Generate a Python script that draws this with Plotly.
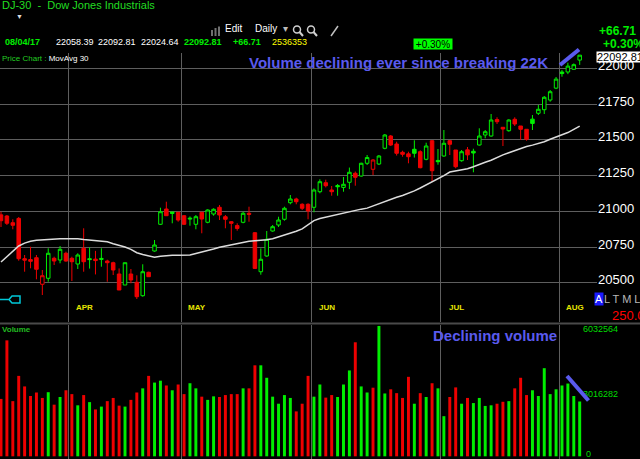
import pandas as pd
import plotly.graph_objects as go

W, H = 640, 459
FONT = "Liberation Sans, Arial, sans-serif"
GREEN = "#00ee00"
RED = "#ee0000"
BLUE = "#5a5aee"
GRID = "#5e5e5e"

# trading days shown (Mar 16 - Aug 4, 2017)
HOLIDAYS = ["2017-04-14", "2017-05-29", "2017-07-04"]
DATES = [d for d in pd.bdate_range("2017-03-16", "2017-08-04")
         if d.strftime("%Y-%m-%d") not in HOLIDAYS]

PREV_CLOSE = 20950.0

OPEN = [20975, 20967, 20920, 20950, 20668, 20662, 20675, 20489, 20531, 20671,
        20659, 20706, 20671, 20631, 20741, 20668, 20665, 20670, 20652, 20640,
        20561, 20484, 20561, 20503, 20409, 20573, 20722, 20909, 21016, 20995,
        20993, 20969, 20952, 20909, 20993, 20923, 20981, 21028, 20962, 20927,
        20900, 20923, 20986, 20850, 20577, 20687, 20862, 20904, 20944, 21060,
        21086, 21049, 21049, 21028, 21137, 21200, 21149, 21180, 21167, 21203,
        21266, 21247, 21336, 21294, 21331, 21441, 21527, 21471, 21413, 21402,
        21434, 21417, 21364, 21494, 21356, 21387, 21494, 21429, 21354, 21430,
        21420, 21464, 21534, 21527, 21642, 21588, 21564, 21644, 21597, 21574,
        21645, 21686, 21711, 21779, 21862, 21975, 21975, 21994, 22058.39]
HIGH = [20997, 20974, 20944, 20960, 20694, 20752, 20694, 20589, 20741, 20682,
        20757, 20717, 20682, 20706, 20881, 20746, 20723, 20741, 20661, 20647,
        20600, 20640, 20596, 20552, 20629, 20577, 20799, 21025, 21067, 20995,
        20993, 20974, 20964, 20974, 20993, 21014, 21021, 21044, 20974, 20932,
        20916, 20997, 21032, 20855, 20740, 20862, 20904, 20962, 21032, 21114,
        21095, 21056, 21056, 21160, 21224, 21221, 21177, 21191, 21240, 21306,
        21278, 21340, 21394, 21366, 21394, 21541, 21534, 21487, 21424, 21417,
        21497, 21427, 21480, 21499, 21436, 21569, 21499, 21429, 21429, 21450,
        21438, 21581, 21569, 21681, 21658, 21588, 21644, 21658, 21597, 21574,
        21674, 21744, 21807, 21849, 21940, 21989, 22040, 22035, 22092.81]
LOW = [20890, 20904, 20874, 20654, 20577, 20601, 20524, 20414, 20507, 20624,
       20636, 20647, 20512, 20596, 20577, 20599, 20558, 20612, 20507, 20554,
       20449, 20484, 20496, 20386, 20402, 20542, 20717, 20904, 20969, 20916,
       20927, 20904, 20899, 20874, 20846, 20916, 20969, 20939, 20881, 20799,
       20864, 20916, 20927, 20596, 20556, 20682, 20857, 20890, 20934, 21049,
       21049, 21009, 20944, 20993, 21126, 21167, 21109, 21109, 21137, 21155,
       21179, 21242, 21324, 21254, 21324, 21434, 21457, 21390, 21382, 21336,
       21376, 21301, 21357, 21210, 21326, 21382, 21394, 21301, 21347, 21359,
       21273, 21460, 21511, 21522, 21611, 21457, 21557, 21597, 21499, 21494,
       21569, 21674, 21681, 21767, 21855, 21942, 21960, 21990, 22024.64]
CLOSE = [20934, 20916, 20902, 20668, 20658, 20650, 20594, 20549, 20706, 20652,
         20734, 20652, 20647, 20694, 20647, 20662, 20655, 20664, 20640, 20589,
         20449, 20640, 20519, 20402, 20577, 20542, 20764, 20997, 20969, 20985,
         20939, 20909, 20947, 20962, 20946, 21009, 21014, 20974, 20944, 20916,
         20880, 20986, 20979, 20600, 20664, 20804, 20892, 20939, 21021, 21086,
         21067, 21021, 21002, 21149, 21207, 21179, 21137, 21172, 21189, 21273,
         21238, 21336, 21376, 21359, 21387, 21534, 21464, 21406, 21399, 21382,
         21406, 21305, 21457, 21284, 21347, 21476, 21469, 21312, 21417, 21395,
         21408, 21527, 21557, 21639, 21627, 21576, 21639, 21611, 21574, 21504,
         21615, 21714, 21798, 21837, 21925, 21964, 22016, 22026.10, 22092.81]
VOLUME = [2656000, 5366000, 2553000, 3722000, 3234000, 2790000, 2953000, 2701000, 2967000, 2390000,
          2745000, 3056000, 2878000, 2360000, 2834000, 2508000, 2168000, 2301000, 2553000, 2701000,
          2345000, 2301000, 2612000, 2953000, 3145000, 3722000, 3412000, 3500000, 3278000, 3056000,
          3323000, 2878000, 3382000, 3145000, 2760000, 2612000, 2775000, 2745000, 2834000, 2878000,
          2878000, 3145000, 3145000, 4211000, 4211000, 3634000, 2760000, 2434000, 2834000, 2701000,
          2079000, 2434000, 3722000, 2760000, 3323000, 2716000, 2834000, 2745000, 3323000, 3974000,
          5277000, 3234000, 2953000, 3175000, 6032564, 2908000, 3101000, 2923000, 2701000, 3678000,
          2434000, 2923000, 2745000, 3382000, 3145000, 1857000, 2745000, 3189000, 2434000, 2701000,
          2464000, 2701000, 2331000, 2360000, 2434000, 2523000, 2553000, 3145000, 3634000, 2834000,
          3056000, 2790000, 4078000, 2878000, 3101000, 3278000, 3367000, 2790000, 2536353]
MOVAVG_30 = [20645, 20682, 20722, 20757, 20777, 20790, 20797, 20801, 20805, 20806,
             20808, 20808, 20808, 20807, 20802, 20797, 20793, 20787, 20786, 20773,
             20762, 20750, 20733, 20710, 20697, 20687, 20678, 20685, 20690, 20692,
             20692, 20692, 20694, 20704, 20713, 20724, 20736, 20748, 20757, 20765,
             20773, 20781, 20790, 20793, 20796, 20800, 20808, 20820, 20831, 20844,
             20860, 20877, 20905, 20935, 20950, 20960, 20970, 20980, 20986, 21000,
             21010, 21015, 21022, 21038, 21053, 21068, 21084, 21098, 21110, 21125,
             21143, 21163, 21185, 21205, 21225, 21250, 21275, 21283, 21291, 21298,
             21312, 21329, 21343, 21357, 21377, 21395, 21410, 21426, 21442, 21453,
             21463, 21473, 21487, 21504, 21518, 21532, 21551, 21573, 21596]
PRICE_TICKS = [20500, 20750, 21000, 21250, 21500, 21750, 22000]
VOLUME_TICKS = [3016282, 6032564]


def px(x):
    return x / W


def py(y):
    return 1 - y / H


def label(text, x, y, size, color, xanchor="left", **kw):
    return dict(xref="paper", yref="paper", x=px(x), y=py(y), text=text,
                showarrow=False, xanchor=xanchor, yanchor="middle",
                font=dict(family=FONT, size=size, color=color), **kw)


n = len(CLOSE)
idx_all = list(range(n))
prev = [PREV_CLOSE] + CLOSE[:-1]
up = [c >= p for c, p in zip(CLOSE, prev)]

fig = go.Figure()

for is_up, color in ((True, GREEN), (False, RED)):
    ids = [i for i in idx_all if up[i] == is_up]
    fig.add_trace(go.Candlestick(
        x=ids,
        open=[OPEN[i] for i in ids], high=[HIGH[i] for i in ids],
        low=[LOW[i] for i in ids], close=[CLOSE[i] for i in ids],
        increasing=dict(line=dict(color=color, width=1), fillcolor="#000000"),
        decreasing=dict(line=dict(color=color, width=1), fillcolor=color),
        whiskerwidth=0, xaxis="x", yaxis="y", hoverinfo="skip"))

fig.add_trace(go.Scatter(x=idx_all, y=MOVAVG_30, mode="lines",
                         line=dict(color="#dcdcdc", width=1.5),
                         xaxis="x", yaxis="y", hoverinfo="skip"))

fig.add_trace(go.Bar(x=idx_all, y=VOLUME, width=0.5,
                     marker=dict(color=[GREEN if u else RED for u in up], line=dict(width=0)),
                     xaxis="x2", yaxis="y2", hoverinfo="skip"))

# month boundaries from the dates
bounds = [i - 0.5 for i in range(1, n) if DATES[i].month != DATES[i - 1].month]
month_starts = [i for i in range(1, n) if DATES[i].month != DATES[i - 1].month]

x_range = [-1 / 5.905, 596 / 5.905]
x_dom = [0, px(597)]

axis_x = dict(domain=x_dom, range=x_range, tickvals=bounds, showticklabels=False,
              showgrid=True, gridcolor=GRID, gridwidth=1, zeroline=False, ticks="",
              showline=False, fixedrange=True)

fig.update_layout(
    width=W, height=H, margin=dict(l=0, r=0, t=0, b=0),
    paper_bgcolor="#000000", plot_bgcolor="#000000", showlegend=False,
    font=dict(family=FONT), boxgap=0.15,
    xaxis=dict(axis_x, anchor="y", rangeslider=dict(visible=False)),
    xaxis2=dict(axis_x, anchor="y2"),
    yaxis=dict(domain=[py(322), py(53)], range=[20225, 22108], side="right",
               tickvals=PRICE_TICKS, ticktext=[str(t) for t in PRICE_TICKS],
               tickfont=dict(family=FONT, size=13, color="#ffffff"),
               showgrid=True, gridcolor=GRID, gridwidth=1, zeroline=False,
               ticks="", ticklabelshift=-3, ticklabeloverflow="allow", showline=False),
    yaxis2=dict(domain=[0, py(325)], range=[-124376, 6076656], anchor="free",
                position=px(582), side="right",
                tickvals=VOLUME_TICKS, ticktext=[str(t) for t in VOLUME_TICKS],
                tickfont=dict(family=FONT, size=9, color="#00dd00"),
                showgrid=False, zeroline=False, ticks="", ticklabelshift=3, showline=False),
)

shapes = [
    # separator between price and volume panes
    dict(type="line", xref="paper", yref="paper", x0=0, x1=1, y0=py(323.5), y1=py(323.5),
         line=dict(color="#4a4a4a", width=2)),
    # hand drawn trend marks
    dict(type="line", xref="paper", yref="paper", x0=px(560), y0=py(65), x1=px(579), y1=py(49.5),
         line=dict(color=BLUE, width=4)),
    dict(type="line", xref="paper", yref="paper", x0=px(567), y0=py(376), x1=px(588.5), y1=py(400.5),
         line=dict(color=BLUE, width=4)),
    # cyan scroll marker
    dict(type="path", xref="paper", yref="paper",
         path=f"M {px(0)},{py(299.5)} L {px(9)},{py(299.5)} L {px(12)},{py(296)} "
              f"L {px(20)},{py(296)} L {px(20)},{py(303)} L {px(12)},{py(303)} L {px(9)},{py(299.5)}",
         line=dict(color="#00c8d8", width=1.5)),
    # toolbar icons
    dict(type="rect", xref="paper", yref="paper", x0=px(211), x1=px(213), y0=py(36), y1=py(30),
         fillcolor="#707070", line=dict(width=0)),
    dict(type="rect", xref="paper", yref="paper", x0=px(214.5), x1=px(216.5), y0=py(36), y1=py(28),
         fillcolor="#707070", line=dict(width=0)),
    dict(type="rect", xref="paper", yref="paper", x0=px(218), x1=px(220), y0=py(36), y1=py(26.5),
         fillcolor="#707070", line=dict(width=0)),
]
for cx in (297, 311):
    shapes.append(dict(type="circle", xref="paper", yref="paper", x0=px(cx - 3.5), x1=px(cx + 3.5),
                       y0=py(33), y1=py(26), line=dict(color="#d0d0d0", width=1.5)))
    shapes.append(dict(type="line", xref="paper", yref="paper", x0=px(cx + 2.5), y0=py(32),
                       x1=px(cx + 6), y1=py(36), line=dict(color="#d0d0d0", width=2)))
shapes.append(dict(type="line", xref="paper", yref="paper", x0=px(331), y0=py(36), x1=px(338), y1=py(26),
                   line=dict(color="#c0c0c0", width=1.5)))
fig.update_layout(shapes=shapes)

ann = [
    label("DJ-30  -  Dow Jones Industrials", 0, 5.5, 11, "#22dd22"),
    label("▼", 14, 16, 7, "#dddddd"),
    label("Edit", 223, 29, 10, "#ffffff"),
    label("Daily", 253, 29, 10, "#ffffff"),
    label("▾", 281, 29, 10, "#bbbbbb"),
    label("<b>08/04/17</b>", 3, 42, 9, GREEN),
    label("22058.39", 54, 42, 9, "#ffffff"),
    label("22092.81", 96, 42, 9, "#ffffff"),
    label("22024.64", 139, 42, 9, "#ffffff"),
    label("<b>22092.81</b>", 182, 42, 9, GREEN),
    label("<b>+66.71</b>", 231, 42, 9, GREEN),
    label("2536353", 270, 42, 9, "#ffff00"),
    label("<span style='color:#22cc22'>Price Chart :</span> MovAvg 30", 0, 58, 8, "#ffffff"),
    label("<b>Volume declining ever since breaking 22K</b>", 247, 63, 15, BLUE),
    label("+0.30%", 433, 44, 10, "#000000", xanchor="center",
          bgcolor="#00ff00", width=38, height=10, borderpad=0),
    label("<b>+66.71</b>", 597, 31.5, 12, GREEN),
    label("<b>+0.30%</b>", 601, 44, 12, GREEN),
    label("22092.81", 596, 57, 11, "#000000", bgcolor="#ffffff", borderpad=0, height=10),
    label("A", 594, 299, 11, "#ffffff", bgcolor="#1a1aff", borderpad=0),
    label("L T M L", 602, 299, 11, "#b8b8b8"),
    label("250.0", 610, 315, 13, "#ff0000"),
    label("<b>Volume</b>", 0, 329, 8, "#22bb22"),
    label("<b>Declining volume</b>", 431, 335.5, 15, BLUE),
    label("0", 584, 454, 9, "#00dd00"),
]
for s in month_starts:
    ann.append(dict(xref="x", yref="paper", x=s - 0.5 + 2.7, y=py(307),
                    text="<b>" + DATES[s].strftime("%b").upper() + "</b>", showarrow=False,
                    xanchor="center", yanchor="middle",
                    font=dict(family=FONT, size=8, color="#e6e600")))
fig.update_layout(annotations=ann)

# the page body has a default 8px margin; drop it so the chart fills the window
fig.write_html("out.html", config={"displayModeBar": False},
               post_script="document.body.style.margin='0';document.body.style.overflow='hidden';")
